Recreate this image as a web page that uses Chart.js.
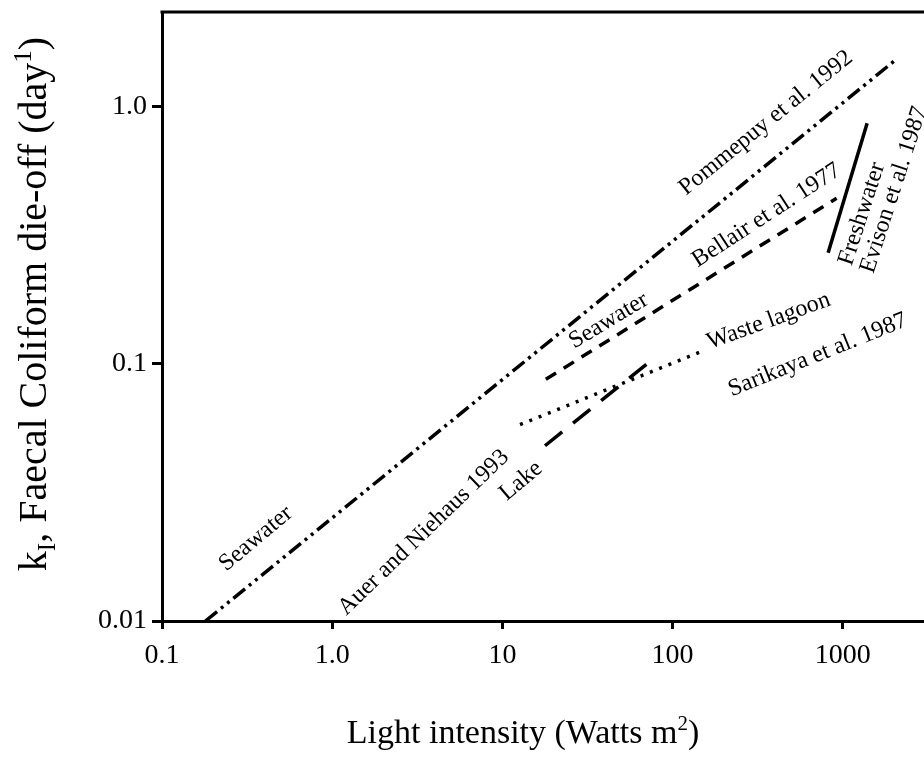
<!DOCTYPE html>
<html>
<head>
<meta charset="utf-8">
<script src="https://cdn.jsdelivr.net/npm/chart.js@4.4.1/dist/chart.umd.min.js"></script>
<style>
  html, body { margin: 0; padding: 0; background: #fff; }
  #wrap { width: 924px; height: 763px; }
</style>
</head>
<body>
<div id="wrap"><canvas id="chart" width="924" height="763"></canvas></div>
<script>
// Light intensity (W/m2) vs die-off rate k_I (1/day)
const pommepuyX = [0.18, 2000];
const pommepuyY = [0.01, 1.5];
const bellairX = [18, 920];
const bellairY = [0.087, 0.44];
const sarikayaX = [12.7, 155];
const sarikayaY = [0.058, 0.113];
const auerX = [17.8, 79];
const auerY = [0.048, 0.106];
const evisonX = [820, 1390];
const evisonY = [0.27, 0.86];

const xTicks = [0.1, 1, 10, 100, 1000];
const xTickLabels = ['0.1', '1.0', '10', '100', '1000'];
const yTicks = [0.01, 0.1, 1];
const yTickLabels = ['0.01', '0.1', '1.0'];

// labels written along the lines (anchor in data units, angle in degrees)
const notes = [
    { text: 'Pommepuy et al. 1992', x: 373, y: 0.826, angle: -39 },
    { text: 'Seawater', x: 0.376, y: 0.020, angle: -40 },
    { text: 'Bellair et al. 1977', x: 373, y: 0.36, angle: -33 },
    { text: 'Seawater', x: 44, y: 0.140, angle: -31 },
    { text: 'Freshwater', x: 1406, y: 0.376, angle: -72 },
    { text: 'Evison et al. 1987', x: 2168, y: 0.466, angle: -72 },
    { text: 'Waste lagoon', x: 378, y: 0.139, angle: -20 },
    { text: 'Sarikaya et al. 1987', x: 735, y: 0.1026, angle: -22 },
    { text: 'Auer and Niehaus 1993', x: 3.66, y: 0.0212, angle: -44 },
    { text: 'Lake', x: 13.6, y: 0.0335, angle: -40 }
];

const SERIF = '"Liberation Serif", "Times New Roman", serif';

function toPoints(xs, ys) {
    return xs.map((v, i) => ({ x: v, y: ys[i] }));
}

function lineSet(label, xs, ys, dash) {
    return {
        label: label,
        data: toPoints(xs, ys),
        borderColor: '#000',
        borderWidth: 3.5,
        borderDash: dash,
        borderCapStyle: 'butt',
        pointRadius: 0,
        fill: false,
        tension: 0
    };
}

// текст с индексами: [строка, 0 обычный / 1 верхний / -1 нижний]
function drawRich(ctx, parts, size) {
    const fontOf = p => (p[1] === 0 ? size : Math.round(size * 0.62)) + 'px ' + SERIF;
    let total = 0;
    parts.forEach(p => { ctx.font = fontOf(p); total += ctx.measureText(p[0]).width; });
    let pos = -total / 2;
    parts.forEach(p => {
        ctx.font = fontOf(p);
        const shift = p[1] === 1 ? -size * 0.38 : (p[1] === -1 ? size * 0.22 : 0);
        ctx.fillText(p[0], pos, shift);
        pos += ctx.measureText(p[0]).width;
    });
}

const framePlugin = {
    id: 'frame',
    afterDraw(chart) {
        const { ctx, chartArea } = chart;
        ctx.save();
        ctx.strokeStyle = '#000';
        ctx.lineWidth = 3;
        ctx.beginPath();
        ctx.moveTo(chartArea.left - 1.5, chartArea.top);
        ctx.lineTo(chartArea.right, chartArea.top);
        ctx.stroke();

        ctx.fillStyle = '#000';
        ctx.textAlign = 'left';
        ctx.textBaseline = 'alphabetic';

        // x title
        ctx.save();
        ctx.translate(523, 743);
        drawRich(ctx, [['Light intensity (Watts m', 0], ['2', 1], [')', 0]], 34);
        ctx.restore();

        // y title
        ctx.save();
        ctx.translate(46, 304);
        ctx.rotate(-Math.PI / 2);
        drawRich(ctx, [['k', 0], ['I', -1], [', Faecal Coliform die-off (day', 0], ['1', 1], [')', 0]], 40);
        ctx.restore();
        ctx.restore();
    }
};

const notesPlugin = {
    id: 'notes',
    afterDatasetsDraw(chart) {
        const { ctx } = chart;
        const xs = chart.scales.x, ys = chart.scales.y;
        ctx.save();
        ctx.fillStyle = '#000';
        ctx.font = '24px ' + SERIF;
        ctx.textAlign = 'center';
        ctx.textBaseline = 'alphabetic';
        notes.forEach(n => {
            ctx.save();
            ctx.translate(xs.getPixelForValue(n.x), ys.getPixelForValue(n.y));
            ctx.rotate(n.angle * Math.PI / 180);
            ctx.fillText(n.text, 0, 0);
            ctx.restore();
        });
        ctx.restore();
    }
};

const ctx = document.getElementById('chart').getContext('2d');
new Chart(ctx, {
    type: 'line',
    data: {
        datasets: [
            lineSet('Pommepuy et al. 1992', pommepuyX, pommepuyY, [15, 5, 3, 5, 3, 5]),
            lineSet('Bellair et al. 1977', bellairX, bellairY, [12, 9]),
            lineSet('Sarikaya et al. 1987', sarikayaX, sarikayaY, [3, 7]),
            lineSet('Auer and Niehaus 1993', auerX, auerY, [22, 14]),
            lineSet('Evison et al. 1987', evisonX, evisonY, [])
        ]
    },
    options: {
        responsive: false,
        animation: false,
        layout: { padding: { top: 12, right: 0, bottom: 0, left: 0 } },
        plugins: {
            legend: { display: false },
            tooltip: { enabled: false }
        },
        scales: {
            x: {
                type: 'logarithmic',
                min: 0.1,
                max: 3000,
                afterBuildTicks: axis => { axis.ticks = xTicks.map(v => ({ value: v })); },
                afterFit: axis => {
                    axis.height = 142;
                    axis.paddingLeft = 0;
                    axis.paddingRight = 0;
                },
                ticks: {
                    autoSkip: false,
                    maxRotation: 0,
                    padding: 10,
                    color: '#000',
                    font: { family: SERIF, size: 28 },
                    callback: (v, i) => xTickLabels[i]
                },
                grid: {
                    drawOnChartArea: false,
                    drawTicks: true,
                    tickLength: 8,
                    tickWidth: 3,
                    tickColor: '#000'
                },
                border: { display: true, color: '#000', width: 3 }
            },
            y: {
                type: 'logarithmic',
                min: 0.01,
                max: 2.33,
                afterBuildTicks: axis => { axis.ticks = yTicks.map(v => ({ value: v })); },
                afterFit: axis => {
                    axis.width = 162;
                    axis.paddingTop = 0;
                    axis.paddingBottom = 0;
                },
                ticks: {
                    autoSkip: false,
                    padding: 5,
                    color: '#000',
                    font: { family: SERIF, size: 28 },
                    callback: (v, i) => yTickLabels[i]
                },
                grid: {
                    drawOnChartArea: false,
                    drawTicks: true,
                    tickLength: 10,
                    tickWidth: 3,
                    tickColor: '#000'
                },
                border: { display: true, color: '#000', width: 3 }
            }
        }
    },
    plugins: [notesPlugin, framePlugin]
});
</script>
</body>
</html>
